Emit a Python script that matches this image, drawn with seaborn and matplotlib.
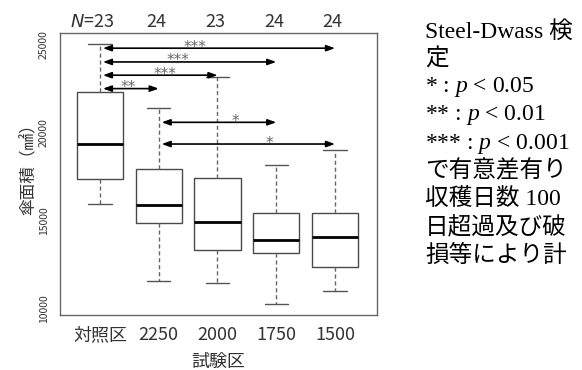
import matplotlib
matplotlib.use("Agg")
import matplotlib.pyplot as plt
import matplotlib.transforms as mtransforms
import numpy as np
import pandas as pd
import seaborn as sns

# ── data ─────────────────────────────────────────────────────────────────────
groups = ["対照区", "2250", "2000", "1750", "1500"]
n_obs = [23, 24, 23, 24, 24]
whisker_lo = [15950, 11600, 11480, 10270, 11030]
q1 = [17370, 14880, 13330, 13160, 12370]
median = [19350, 15900, 14950, 13900, 14070]
q3 = [22280, 17930, 17430, 15440, 15460]
whisker_hi = [25000, 21370, 23170, 18150, 19000]

# significance brackets (Steel-Dwass)
cmp_from = ["対照区", "対照区", "対照区", "対照区", "2250", "2250"]
cmp_to = ["1500", "1750", "2000", "2250", "1750", "1500"]
cmp_label = ["***", "***", "***", "**", "*", "*"]
cmp_y = [24780, 24000, 23250, 22490, 20580, 19350]
cmp_label_x = [1.62, 1.33, 1.11, 0.48, 2.31, 2.88]

note_lines = ["Steel-Dwass 検", "定", "* : $p$ < 0.05", "** : $p$ < 0.01",
              "*** : $p$ < 0.001", "で有意差有り", "収穫日数 100",
              "日超過及び破", "損等により計"]

# five-number summary per group -> seaborn box with whis=(0, 100)
df = pd.DataFrame({
    "試験区": np.repeat(groups, 5),
    "傘面積": np.column_stack([whisker_lo, q1, median, q3, whisker_hi]).ravel(),
})

sns.set_style("white")
plt.rcParams["font.family"] = ["Noto Sans CJK JP", "DejaVu Sans"]
plt.rcParams["mathtext.fontset"] = "custom"
plt.rcParams["mathtext.it"] = "Liberation Serif:italic"
plt.rcParams["mathtext.rm"] = "Liberation Serif"
plt.rcParams["mathtext.sf"] = "DejaVu Sans:italic"

fig = plt.figure(figsize=(5.82, 3.70), dpi=100)
ax = fig.add_axes([0.1031, 0.1486, 0.5447, 0.7622])

sns.boxplot(data=df, x="試験区", y="傘面積", order=groups, whis=(0, 100),
            width=0.79, color="white", linecolor="#4a4a4a", linewidth=1.0,
            whiskerprops={"linestyle": (0, (3, 2)), "color": "#666666"},
            capprops={"color": "#555555"},
            medianprops={"color": "black", "linewidth": 2.0},
            ax=ax)

ax.set_xlim(-0.68, 4.715)
ax.set_ylim(9663, 25640)
ax.set_yticks([10000, 15000, 20000, 25000])
ax.tick_params(axis="y", labelrotation=90, labelsize=7.5, length=5,
               color="#666666", labelcolor="#333333", pad=3)
for lab in ax.get_yticklabels():
    lab.set_va("center")
ax.tick_params(axis="x", labelsize=13, length=5, color="#666666",
               labelcolor="#333333", pad=3)
for s in ax.spines.values():
    s.set_visible(True)
    s.set_color("#666666")
    s.set_linewidth(1.0)

ax.set_xlabel("試験区", fontsize=13, color="#333333", labelpad=6)
ax.set_ylabel("傘面積（㎟）", fontsize=12, color="#333333")
ax.yaxis.set_label_coords(-0.07, 0.53)

# N above each box
pos = {g: i for i, g in enumerate(groups)}
trans = mtransforms.blended_transform_factory(ax.transData, ax.transAxes)
for g, n in zip(groups, n_obs):
    txt = f"$\\mathsf{{N}}$={n}" if g == groups[0] else f"{n}"
    dx = -0.13 if g == groups[0] else -0.04
    ax.text(pos[g] + dx, 1.04, txt, transform=trans, ha="center",
            va="center", fontsize=13, color="#333333")

# significance arrows
for a, b, lab, y, lx in zip(cmp_from, cmp_to, cmp_label, cmp_y, cmp_label_x):
    ax.annotate("", xy=(pos[b], y), xytext=(pos[a] + 0.05, y),
                arrowprops=dict(arrowstyle="<|-|>,head_length=0.5,head_width=0.18",
                                color="black", lw=1.2, shrinkA=0, shrinkB=0,
                                mutation_scale=10))
    ax.annotate(lab, xy=(lx, y), xytext=(0, -2.5), textcoords="offset points",
                ha="center", va="baseline", fontsize=11, color="#666666",
                family="DejaVu Sans")

# note on the right
note_y = [32, 59, 87, 115, 144, 171, 199, 228, 256]
for t, y in zip(note_lines, note_y):
    fig.text(425 / 582, 1 - y / 370, t, ha="left", va="center",
             fontsize=17, color="black",
             family=["Liberation Serif", "Noto Sans CJK JP"])

fig.savefig("out.png", dpi=100)
